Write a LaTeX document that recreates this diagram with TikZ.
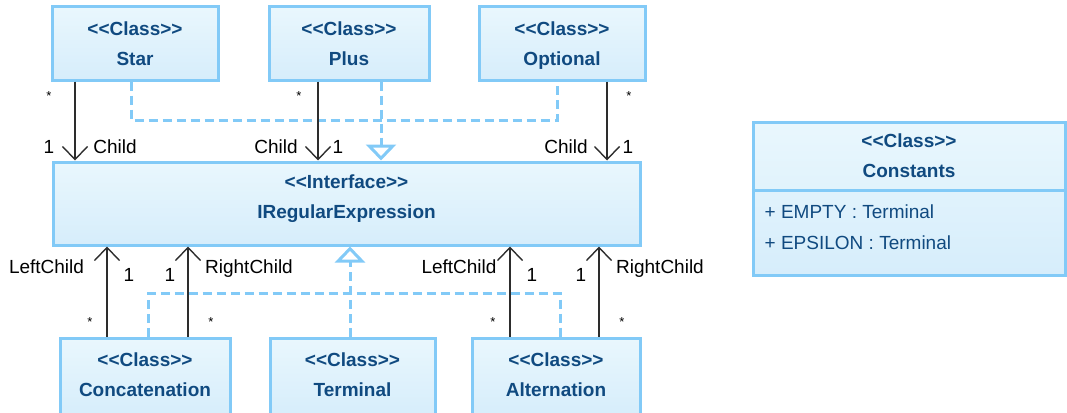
\documentclass[tikz,border=0pt]{standalone}
\usepackage{fontspec}
\setmainfont{Liberation Sans}[Ligatures=TeXOff]
\usetikzlibrary{arrows.meta}
\definecolor{umlborder}{RGB}{130,202,247}
\definecolor{umltop}{RGB}{233,247,253}
\definecolor{umlbot}{RGB}{214,237,251}
\definecolor{umltext}{RGB}{16,74,128}
\definecolor{umllink}{RGB}{45,45,45}
\tikzset{
  classbox/.style={rectangle, draw=umlborder, line width=3pt, top color=umltop, bottom color=umlbot, inner sep=0pt},
  classtext/.style={text=umltext, font=\fontsize{19}{30}\selectfont\bfseries, align=center, inner sep=0pt},
  attrtext/.style={text=umltext, font=\fontsize{19}{22}\selectfont, inner sep=0pt, anchor=west},
  assoc/.style={draw=umllink, line width=1.4pt, -{Straight Barb[length=13pt,width=25pt]}},
  realize/.style={draw=umlborder, line width=3pt, dash pattern=on 9pt off 5pt},
  realtip/.style={-{Triangle[length=16pt,width=30pt,fill=white]}},
  rolelbl/.style={font=\fontsize{19}{22}\selectfont, text height=13.6pt, text depth=0pt, inner sep=0pt},
  multlbl/.style={font=\fontsize{13}{14}\selectfont, inner sep=0pt},
}
\begin{document}
\begin{tikzpicture}[x=1pt, y=-1pt]
  \useasboundingbox (0,0) rectangle (1067,412);

  % classes on top
  \node[classbox, minimum width=166pt, minimum height=73pt] (star) at (135,43.5) {};
  \node[classtext] (startext) at (star.center) {<<Class>>\\Star};
  \node[classbox, minimum width=160pt, minimum height=73pt] (plus) at (349,43.5) {};
  \node[classtext] (plustext) at (plus.center) {<<Class>>\\Plus};
  \node[classbox, minimum width=166pt, minimum height=73pt] (opt) at (562,43.5) {};
  \node[classtext] (opttext) at ([yshift=-2pt]opt.center) {<<Class>>\\Optional};

  % interface
  \node[classbox, minimum width=587pt, minimum height=83pt] (ire) at (346.5,203.5) {};
  \node[classtext] (iretext) at ([yshift=5pt]ire.center) {<<Interface>>\\IRegularExpression};

  % classes below
  \node[classbox, minimum width=170pt, minimum height=78pt] (conc) at (145,377) {};
  \node[classtext] (conctext) at ([yshift=2.5pt]conc.center) {<<Class>>\\Concatenation};
  \node[classbox, minimum width=165pt, minimum height=78pt] (term) at (352.5,377) {};
  \node[classtext] (termtext) at ([yshift=2.5pt]term.center) {<<Class>>\\Terminal};
  \node[classbox, minimum width=168pt, minimum height=78pt] (alt) at (556,377) {};
  \node[classtext] (alttext) at ([yshift=2.5pt]alt.center) {<<Class>>\\Alternation};

  % constants
  \node[classbox, minimum width=312pt, minimum height=153pt] (const) at (909,198.5) {};
  \draw[draw=umlborder, line width=3pt] ([yshift=-70pt]const.north west) -- ([yshift=-70pt]const.north east);
  \node[classtext] (consttext) at ([yshift=-35pt]const.north) {<<Class>>\\Constants};
  \node[attrtext] (attr1) at ([xshift=13pt,yshift=-91pt]const.north west) {+ EMPTY : Terminal};
  \node[attrtext] (attr2) at ([xshift=13pt,yshift=-122pt]const.north west) {+ EPSILON : Terminal};

  % connector feet
  \coordinate (starA) at ([xshift=-60pt]star.south);
  \coordinate (starR) at ([xshift=-4pt]star.south);
  \coordinate (plusA) at ([xshift=-31pt]plus.south);
  \coordinate (plusR) at ([xshift=32pt]plus.south);
  \coordinate (optR) at ([xshift=-5pt]opt.south);
  \coordinate (optA) at ([xshift=45pt]opt.south);
  \coordinate (topbus) at (381,120);
  \coordinate (concL) at ([xshift=-38pt]conc.north);
  \coordinate (concR) at ([xshift=3pt]conc.north);
  \coordinate (concRt) at ([xshift=43pt]conc.north);
  \coordinate (termR) at ([xshift=-2.5pt]term.north);
  \coordinate (altL) at ([xshift=-46pt]alt.north);
  \coordinate (altR) at ([xshift=4pt]alt.north);
  \coordinate (altRt) at ([xshift=43pt]alt.north);
  \coordinate (botbus) at (350,293);

  % realizations
  \draw[realize] (starR) |- (topbus) -| (optR);
  \draw[realize, realtip] (plusR) -- (plusR |- ire.north);
  \draw[realize] (concR) |- (botbus) -| (altR);
  \draw[realize, realtip] (termR) -- (termR |- ire.south);

  % associations
  \draw[assoc] (starA) -- (starA |- ire.north);
  \draw[assoc] (plusA) -- (plusA |- ire.north);
  \draw[assoc] (optA) -- (optA |- ire.north);
  \draw[assoc] (concL) -- (concL |- ire.south);
  \draw[assoc] (concRt) -- (concRt |- ire.south);
  \draw[assoc] (altL) -- (altL |- ire.south);
  \draw[assoc] (altRt) -- (altRt |- ire.south);

  % roles and multiplicities
  \node[multlbl] (m1) at (49,96.5) {*};
  \node[rolelbl] (n1) at (49,147) {1};
  \node[rolelbl] (r1) at (115,147) {Child};
  \node[multlbl] (m2) at (299,96.5) {*};
  \node[rolelbl] (r2) at (276,147) {Child};
  \node[rolelbl] (n2) at (338,147) {1};
  \node[multlbl] (m3) at (629,96.5) {*};
  \node[rolelbl] (r3) at (566,147) {Child};
  \node[rolelbl] (n3) at (628,147) {1};

  \node[rolelbl] (r4) at (46.5,267) {LeftChild};
  \node[rolelbl] (n4) at (129,275) {1};
  \node[multlbl] (m4) at (90,322.5) {*};
  \node[rolelbl] (n5) at (170,275) {1};
  \node[rolelbl] (r5) at (249,267) {RightChild};
  \node[multlbl] (m5) at (211,322.5) {*};
  \node[rolelbl] (r6) at (459,267) {LeftChild};
  \node[rolelbl] (n6) at (532,275) {1};
  \node[multlbl] (m6) at (493,322.5) {*};
  \node[rolelbl] (n7) at (581,275) {1};
  \node[rolelbl] (r7) at (660,267) {RightChild};
  \node[multlbl] (m7) at (622,322.5) {*};
\end{tikzpicture}
\end{document}
